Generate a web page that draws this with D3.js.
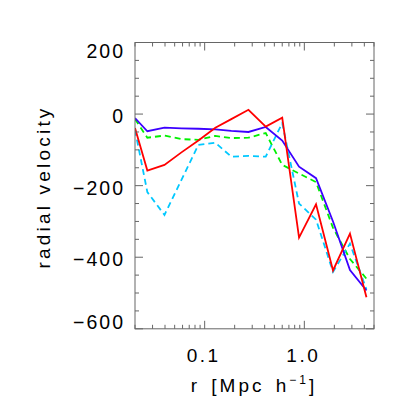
<!DOCTYPE html>
<html>
<head>
<meta charset="utf-8">
<script src="https://cdn.jsdelivr.net/npm/d3@7"></script>
<style>
  body { margin: 0; background: #fff; }
  text { font-family: "Liberation Sans", Arial, sans-serif; fill: #000; }
</style>
</head>
<body>
<div id="chart"></div>
<script>
// radius bins (Mpc/h)
var radius = [0.02, 0.0266, 0.0395, 0.0585, 0.0865, 0.128, 0.185, 0.275, 0.41, 0.6, 0.885, 1.31, 1.94, 2.87, 4.2];
// radial velocity profiles
var blueVals  = [-11, -48, -38, -40, -41, -43, -47, -50, -36, -74, -147, -179, -300, -436, -493];
var redVals   = [-39, -158, -142, -107, -74, -38, -14, 12, -35, -10, -345, -252, -437, -334, -512];
var greenVals = [-14, -66, -60, -70, -72, -61, -67, -66, -53, -142, -166, -190, -318, -405, -460];
var cyanVals  = [-44, -218, -282, -184, -86, -80, -119, -117, -119, -25, -250, -295, -441, -362, -490];
var xTicks = [0.1, 1.0];
var xTickLabels = ["0.1", "1.0"];
var yTicks = [200, 0, -200, -400, -600];

var W = 415, H = 415;
var pLeft = 135, pRight = 374, pTop = 42.5, pBottom = 328.8;

var svg = d3.select("#chart").append("svg").attr("width", W).attr("height", H);

var x = d3.scaleLog().domain([0.02, 5]).range([pLeft, pRight]);
var y = d3.scaleLinear().domain([-600, 200]).range([pBottom, pTop]);

// 裁剪区域
svg.append("clipPath").attr("id", "clip")
  .append("rect").attr("x", pLeft).attr("y", pTop)
  .attr("width", pRight - pLeft).attr("height", pBottom - pTop);

var series = [
  { vals: greenVals, color: "#00f000", dash: "6,4" },
  { vals: cyanVals,  color: "#00c8ff", dash: "6,4" },
  { vals: blueVals,  color: "#3c00ff", dash: null },
  { vals: redVals,   color: "#ff0000", dash: null }
];

var line = d3.line()
  .x(function(d) { return x(d[0]); })
  .y(function(d) { return y(d[1]); });

var g = svg.append("g").attr("clip-path", "url(#clip)");
series.forEach(function(s) {
  var pts = radius.map(function(r, i) { return [r, s.vals[i]]; });
  g.append("path")
    .attr("d", line(pts))
    .attr("fill", "none")
    .attr("stroke", s.color)
    .attr("stroke-width", 1.8)
    .attr("stroke-dasharray", s.dash);
});

// 坐标框
var axisColor = "#666";
svg.append("rect").attr("x", pLeft).attr("y", pTop)
  .attr("width", pRight - pLeft).attr("height", pBottom - pTop)
  .attr("fill", "none").attr("stroke", axisColor).attr("stroke-width", 1);

// x ticks (log minor)
var xMinor = x.ticks();
xMinor.forEach(function(t) {
  var major = xTicks.some(function(m) { return Math.abs(m - t) < 1e-9; });
  var len = major ? 8 : 4;
  var px = x(t);
  svg.append("line").attr("x1", px).attr("x2", px).attr("y1", pBottom).attr("y2", pBottom - len)
    .attr("stroke", axisColor);
  svg.append("line").attr("x1", px).attr("x2", px).attr("y1", pTop).attr("y2", pTop + len)
    .attr("stroke", axisColor);
});

// y ticks, minor every 50
d3.range(-600, 201, 50).forEach(function(t) {
  var major = t % 200 === 0;
  var len = major ? 8 : 4;
  var py = y(t);
  svg.append("line").attr("x1", pLeft).attr("x2", pLeft + len).attr("y1", py).attr("y2", py)
    .attr("stroke", axisColor);
  svg.append("line").attr("x1", pRight).attr("x2", pRight - len).attr("y1", py).attr("y2", py)
    .attr("stroke", axisColor);
});

// tick labels, end labels kept inside the axis span
svg.selectAll(".ylab").data(yTicks).enter().append("text")
  .attr("x", 125)
  .attr("y", function(d) {
    return Math.max(pTop + 15, Math.min(pBottom, y(d) + 9));
  })
  .attr("text-anchor", "end")
  .attr("font-size", 19.5)
  .attr("letter-spacing", 2)
  .text(function(d) { return d < 0 ? "\u2212" + Math.abs(d) : d; });

svg.selectAll(".xlab").data(xTicks).enter().append("text")
  .attr("x", function(d) { return x(d) - 1; }).attr("y", 361.5)
  .attr("text-anchor", "middle")
  .attr("font-size", 19)
  .attr("letter-spacing", 2.5)
  .text(function(d, i) { return xTickLabels[i]; });

// axis titles
svg.append("text")
  .attr("transform", "translate(50,187) rotate(-90)")
  .attr("text-anchor", "middle")
  .attr("font-size", 19)
  .attr("letter-spacing", 3.2)
  .text("radial velocity");

var xt = svg.append("text")
  .attr("x", 254).attr("y", 391.5)
  .attr("text-anchor", "middle")
  .attr("font-size", 19)
  .attr("letter-spacing", 3)
  .attr("word-spacing", 3);
xt.append("tspan").text("r [Mpc h");
xt.append("tspan").attr("font-size", 12).attr("dy", -8).text("\u22121");
xt.append("tspan").attr("dy", 8).text("]");
</script>
</body>
</html>
